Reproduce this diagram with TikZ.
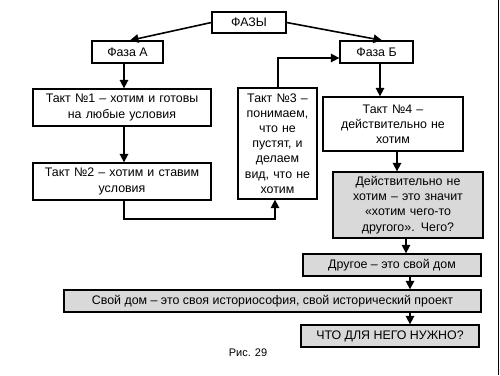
\documentclass[tikz,border=0pt]{standalone}
\usepackage{fontspec}
\setmainfont{Liberation Sans}
\usetikzlibrary{arrows.meta}
\begin{document}
\begin{tikzpicture}[x=1pt,y=-1pt,
  box/.style={draw=black, line width=1.3pt, fill=white, inner sep=0pt, align=center,
    font=\fontsize{12.4}{15.2}\selectfont},
  gbox/.style={box, fill=gray!30},
  arr/.style={line width=1.6pt, -{Triangle[length=8.5pt,width=8.5pt]}},
  conn/.style={line width=1.6pt}]
\useasboundingbox (0,0) rectangle (500,375);
\fill[white] (0,0) rectangle (500,375);
\draw[line width=1.2pt] (498.5,0) -- (498.5,375);

\node[box, minimum width=74pt, minimum height=21pt] (fazy) at (249,22.5) {ФАЗЫ};
\node[box, minimum width=71pt, minimum height=22pt] (fa) at (127.5,52) {Фаза А};
\node[box, minimum width=73pt, minimum height=22pt] (fb) at (376.5,52) {Фаза Б};
\node[box, minimum width=178pt, minimum height=37pt, text width=174pt] (t1) at (122,107.5) {Такт №1 – хотим и готовы\\на любые условия};
\node[box, minimum width=178pt, minimum height=37pt, text width=174pt] (t2) at (122,181.5) {Такт №2 – хотим и ставим\\условия};
\node[box, minimum width=79pt, minimum height=111pt, text width=77pt] (t3) at (277.5,143.5) {Такт №3 –\\понимаем,\\что не\\пустят, и\\делаем\\вид, что не\\хотим};
\node[box, minimum width=140pt, minimum height=54pt, text width=136pt] (t4) at (393,124) {Такт №4 –\\действительно не\\хотим};
\node[gbox, minimum width=150pt, minimum height=66pt, text width=146pt] (g1) at (408,205) {Действительно не\\хотим – это значит\\«хотим чего-то\\другого». Чего?};
\node[gbox, minimum width=178pt, minimum height=22pt] (dr) at (392,265) {Другое – это свой дом};
\node[gbox, minimum width=417pt, minimum height=22pt] (sd) at (272.5,301) {Свой дом – это своя историософия, свой исторический проект};
\node[gbox, minimum width=178pt, minimum height=22pt] (ch) at (390,336) {ЧТО ДЛЯ НЕГО НУЖНО?};
\node[font=\fontsize{11}{13}\selectfont, inner sep=0pt] (ris) at (248,353) {Рис. 29};

\coordinate (xa) at (124,0);
\coordinate (xb) at (380,0);
\coordinate (xc) at (397,0);
\coordinate (xd) at (406,0);
\coordinate (xe) at (410,0);
\coordinate (xf) at (275,0);
\coordinate (xg) at (278,0);
\coordinate (yb) at (0,219);
\coordinate (yc) at (0,58);
\coordinate (pa) at (130,0);
\coordinate (pb) at (382,0);

\draw[arr] (fazy.west) -- (fa.north -| pa);
\draw[arr] (fazy.east) -- (fb.north -| pb);
\draw[arr] (fa.south -| xa) -- (t1.north -| xa);
\draw[arr] (t1.south -| xa) -- (t2.north -| xa);
\draw[arr] (t2.south -| xa) -- (xa |- yb) -- (xf |- yb) -- (t3.south -| xf);
\draw[arr] (t3.north -| xg) -- (xg |- yc) -- (fb.west |- yc);
\draw[arr] (fb.south -| xb) -- (t4.north -| xb);
\draw[arr] (t4.south -| xc) -- (g1.north -| xc);
\draw[arr] (g1.south -| xd) -- (dr.north -| xd);
\draw[arr] (dr.south -| xe) -- (sd.north -| xe);
\draw[arr] (sd.south -| xe) -- (ch.north -| xe);
\end{tikzpicture}
\end{document}
